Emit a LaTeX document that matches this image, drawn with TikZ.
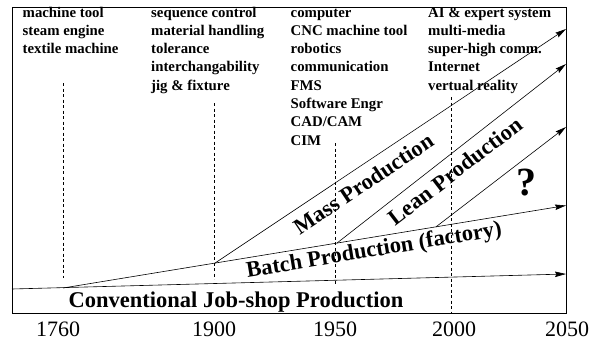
\documentclass[tikz,border=0pt]{standalone}
\usepackage{fontspec}
\setmainfont{Liberation Serif}
\usetikzlibrary{arrows.meta,calc}

\tikzset{
  frame/.style={line width=0.8pt},
  track/.style={line width=0.6pt},
  arr/.style={track,-{Stealth[length=11pt,width=5.5pt,inset=1.5pt]}},
  era/.style={line width=0.5pt,dash pattern=on 3pt off 2.5pt},
  toptext/.style={anchor=base west,inner sep=0pt,font=\fontsize{14.8}{17}\selectfont\bfseries},
  yearlbl/.style={anchor=base,inner sep=0pt,font=\fontsize{22}{24}\selectfont},
  stage/.style={anchor=base,inner sep=0pt,font=\fontsize{22.5}{24}\selectfont\bfseries},
}

\begin{document}
\begin{tikzpicture}[x=1pt,y=-1pt]
\useasboundingbox (0,0) rectangle (591,343);

% outer frame
\draw[frame] (12,7) rectangle (566,313);

% main tracks
\coordinate (cl-start) at (12,289);
\coordinate (cl-end)   at (566,274);
\coordinate (b-start)  at (63,288);
\coordinate (b-end)    at (566,205.5);
\coordinate (j1900) at ($(b-start)!0.3022!(b-end)$);
\coordinate (j1950) at ($(b-start)!0.5447!(b-end)$);
\coordinate (j1990) at ($(b-start)!0.7416!(b-end)$);
\coordinate (mass-end) at (566,29);
\coordinate (lean-end) at (566,64);
\coordinate (next-end) at (566,127);

% era markers
\coordinate (e1760t) at (63,83);   \coordinate (e1760b) at (63,278);
\coordinate (e1900t) at (214,103); \coordinate (e1900b) at (214,279);
\coordinate (e1950t) at (335,143); \coordinate (e1950b) at (335,285);
\coordinate (e2000t) at (451,97);  \coordinate (e2000b) at (451,313);
\draw[era] (e1760t) -- (e1760b);
\draw[era] (e1900t) -- (e1900b);
\draw[era] (e1950t) -- (e1950b);
\draw[era] (e2000t) -- (e2000b);

\draw[arr] (cl-start) -- (cl-end);
\draw[arr] (b-start) -- (b-end);
\draw[arr] (j1900) -- (mass-end);
\draw[arr] (j1950) -- (lean-end);
\draw[arr] (j1990) -- (next-end);

% stage labels
\node[stage] (conv) at (236,307) {Conventional Job-shop Production};
\node[stage,rotate=9.4] (batch) at (375,256.5) {Batch Production (factory)};
\node[stage,rotate=33.7] (mass) at (367.5,190) {Mass Production};
\node[stage,rotate=37.5] (lean) at (460,177) {Lean Production};
\node[inner sep=0pt,font=\fontsize{40}{40}\selectfont\bfseries] (quest) at (526,183) {?};

% technologies of each era
\foreach \t [count=\i from 0] in {machine tool,steam engine,textile machine}
  \node[toptext] (ta\i) at (22.5,17+18.3*\i) {\t};
\foreach \t [count=\i from 0] in {sequence control,material handling,tolerance,interchangability,jig \& fixture}
  \node[toptext] (tb\i) at (151,17+18.3*\i) {\t};
\foreach \t [count=\i from 0] in {computer,CNC machine tool,robotics,communication,FMS,Software Engr,CAD/CAM,CIM}
  \node[toptext] (tc\i) at (290.5,17+18.3*\i) {\t};
\foreach \t [count=\i from 0] in {AI \& expert system,multi-media,super-high comm.,Internet,vertual reality}
  \node[toptext] (td\i) at (428,17+18.3*\i) {\t};

% time axis
\node[yearlbl] (y1760) at (58,336) {1760};
\node[yearlbl] (y1900) at (214,336) {1900};
\node[yearlbl] (y1950) at (335,336) {1950};
\node[yearlbl] (y2000) at (454,336) {2000};
\node[yearlbl] (y2050) at (567,336) {2050};
\end{tikzpicture}
\end{document}
